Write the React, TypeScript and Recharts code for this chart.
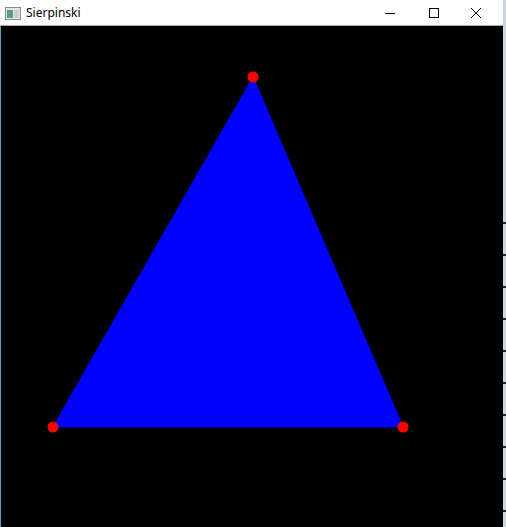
import { Area, ComposedChart, Scatter, XAxis, YAxis } from "recharts";

// canvas pixel coordinates of the three corners (y grows downward)
const cornerX = [50, 250, 400];
const cornerY = [400, 50, 400];
const baseY = 400;

// little dashes on the desktop strip right of the window
const stripTicks = [222, 254, 286, 318, 350, 382, 414, 446, 478, 510];

const areaData = cornerX.map((x, i) => ({ x, band: [baseY, cornerY[i]] }));
const cornerData = cornerX.map((x, i) => ({ x, y: cornerY[i] }));

function Dot(props: any) {
  const { cx, cy } = props;
  return <circle cx={cx} cy={cy} r={5.5} fill="#ff0000" />;
}

function TitleBar() {
  return (
    <div
      style={{
        position: "absolute",
        left: 0,
        top: 0,
        width: 503,
        height: 26,
        background: "#fff",
        borderBottom: "1px solid #a8a8a8",
        boxSizing: "border-box",
        fontFamily: "'Noto Sans', sans-serif",
        fontSize: 12,
        color: "#000",
      }}
    >
      <svg style={{ position: "absolute", left: 5, top: 7 }} width={16} height={13}>
        <rect x={0.5} y={0.5} width={15} height={12} fill="#e4e4e4" stroke="#8a8a8a" />
        <rect x={2} y={3} width={6} height={8} fill="#5f9a86" />
        <rect x={9} y={3} width={5} height={8} fill="#c6cfd0" />
      </svg>
      <span style={{ position: "absolute", left: 26, top: 4 }}>Sierpinski</span>
      <svg style={{ position: "absolute", left: 380, top: 0 }} width={120} height={26}>
        <line x1={5} y1={13.5} x2={15} y2={13.5} stroke="#000" />
        <rect x={49.5} y={8.5} width={9} height={9} fill="none" stroke="#000" />
        <line x1={91} y1={8} x2={101} y2={18} stroke="#000" />
        <line x1={101} y1={8} x2={91} y2={18} stroke="#000" />
      </svg>
    </div>
  );
}

export default function App() {
  return (
    <div
      style={{
        position: "absolute",
        left: 0,
        top: 0,
        width: 506,
        height: 527,
        overflow: "hidden",
        background: "#c9d6e4",
      }}
    >
      {stripTicks.map((t) => (
        <div
          key={t}
          style={{ position: "absolute", left: 503, top: t, width: 3, height: 2, background: "#222" }}
        />
      ))}
      <div
        style={{
          position: "absolute",
          left: 0,
          top: 0,
          width: 503,
          height: 527,
          background: "#000",
          borderLeft: "1px solid #6d9ccc",
          boxSizing: "border-box",
        }}
      />
      <TitleBar />
      <div style={{ position: "absolute", left: 3, top: 27 }}>
        <ComposedChart width={500} height={500} margin={{ top: 0, right: 0, bottom: 0, left: 0 }}>
          <XAxis type="number" dataKey="x" domain={[0, 500]} hide />
          <YAxis type="number" domain={[0, 500]} reversed hide />
          <Area
            data={areaData}
            dataKey="band"
            type="linear"
            stroke="#0000ff"
            fill="#0000ff"
            fillOpacity={1}
            dot={false}
            activeDot={false}
            isAnimationActive={false}
          />
          <Scatter data={cornerData} dataKey="y" shape={<Dot />} isAnimationActive={false} />
        </ComposedChart>
      </div>
    </div>
  );
}
